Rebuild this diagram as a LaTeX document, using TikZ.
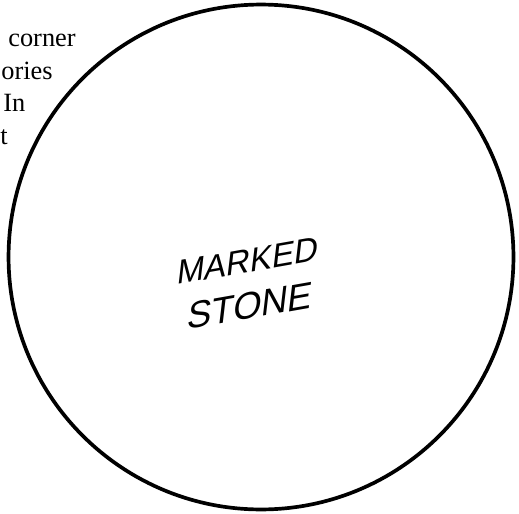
\documentclass[tikz,border=0pt]{standalone}
\usepackage{fontspec}
\setmainfont{Liberation Serif}
\newfontfamily\handfont[FakeSlant=0.3]{Liberation Sans}
\usepackage{tikz}

\begin{document}
\begin{tikzpicture}[x=0.02cm,y=-0.02cm,line cap=round,
  pagetext/.style={anchor=base west,inner sep=0pt,font=\fontsize{15pt}{18pt}\selectfont},
  handtext/.style={anchor=base west,inner sep=0pt,rotate=10,
    font=\handfont\fontsize{19pt}{24pt}\selectfont}]
\useasboundingbox (0,0) rectangle (519,513);
\clip (0,0) rectangle (519,513);
\node[pagetext] (l1) at (8,47) {corner};
\node[pagetext] (l2) at (1,80) {ories};
\node[pagetext] (l3) at (3,112) {In};
\node[pagetext] (l4) at (0,144) {t};
\draw[line width=2.1pt] (261,257) circle [radius=5.05cm];
\node[handtext] (marked) at (176,285) {MARKED};
\node[handtext,font=\handfont\fontsize{21pt}{24pt}\selectfont] (stone) at (186,330) {STONE};
\end{tikzpicture}
\end{document}
